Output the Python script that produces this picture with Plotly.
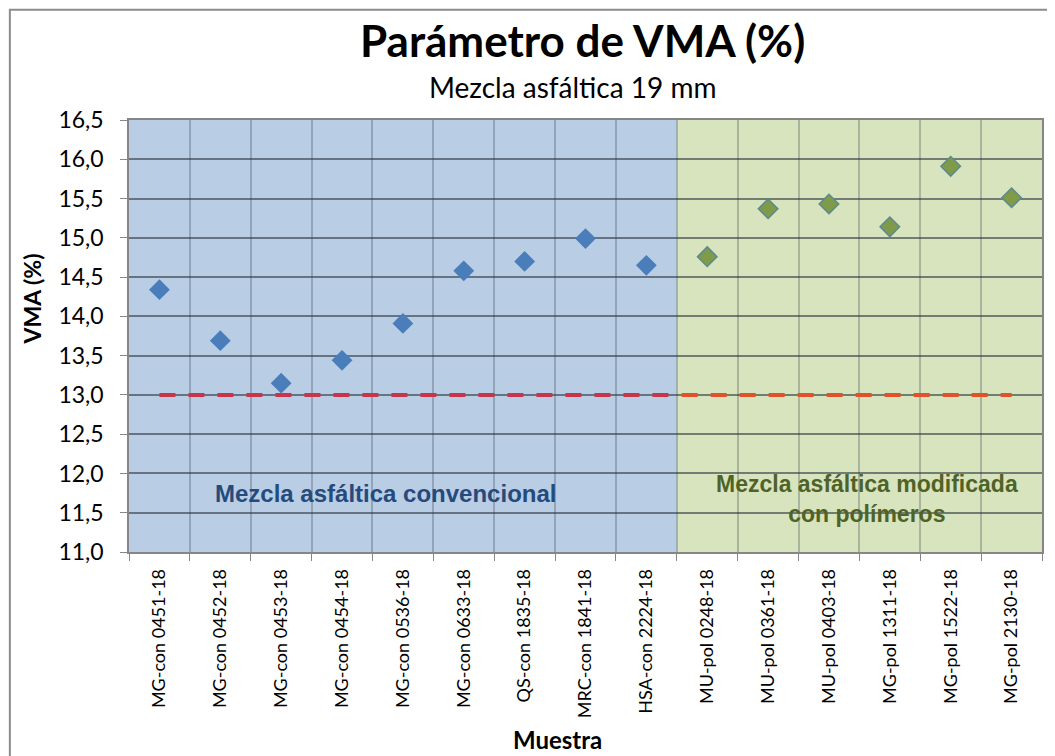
import plotly.graph_objects as go

# ---- data ----
conv_samples = ["MG-con 0451-18", "MG-con 0452-18", "MG-con 0453-18", "MG-con 0454-18",
                "MG-con 0536-18", "MG-con 0633-18", "QS-con 1835-18", "MRC-con 1841-18",
                "HSA-con 2224-18"]
conv_vma = [14.34, 13.69, 13.15, 13.44, 13.91, 14.58, 14.70, 14.99, 14.65]

pol_samples = ["MU-pol 0248-18", "MU-pol 0361-18", "MU-pol 0403-18", "MG-pol 1311-18",
               "MG-pol 1522-18", "MG-pol 2130-18"]
pol_vma = [14.76, 15.37, 15.43, 15.14, 15.91, 15.51]

vma_min = 13.0
y_ticks = [11.0, 11.5, 12.0, 12.5, 13.0, 13.5, 14.0, 14.5, 15.0, 15.5, 16.0, 16.5]

labels = conv_samples + pol_samples
n_conv = len(conv_samples)
n_all = len(labels)
x_conv = list(range(n_conv))
x_pol = list(range(n_conv, n_all))
boundary = n_conv - 0.5

fig = go.Figure()

# minimum VMA lines
fig.add_trace(go.Scatter(x=[0, boundary - 0.1], y=[vma_min, vma_min], mode="lines",
                         line=dict(color="#C8354B", width=4, dash="16px,13px"),
                         showlegend=False, hoverinfo="skip"))
fig.add_trace(go.Scatter(x=[boundary + 0.08, n_all - 1], y=[vma_min, vma_min], mode="lines",
                         line=dict(color="#E2522A", width=4, dash="16px,13px"),
                         showlegend=False, hoverinfo="skip"))

# sample points
fig.add_trace(go.Scatter(x=x_conv, y=conv_vma, mode="markers",
                         marker=dict(symbol="diamond", size=16, color="#4A7EBB",
                                     line=dict(width=0)),
                         showlegend=False))
fig.add_trace(go.Scatter(x=x_pol, y=pol_vma, mode="markers",
                         marker=dict(symbol="diamond", size=15, color="#7F9A48",
                                     line=dict(width=1.5, color="#5B8A92")),
                         showlegend=False))

# background regions
fig.add_shape(type="rect", xref="x", yref="y", x0=-0.5, x1=boundary, y0=y_ticks[0], y1=y_ticks[-1],
              fillcolor="#B9CDE5", line=dict(width=0), layer="below")
fig.add_shape(type="rect", xref="x", yref="y", x0=boundary, x1=n_all - 0.5, y0=y_ticks[0], y1=y_ticks[-1],
              fillcolor="#D7E4BD", line=dict(width=0), layer="below")

# outer chart border
fig.add_shape(type="rect", xref="paper", yref="paper", x0=-0.1305, x1=1.03, y0=-0.5, y1=1.255,
              line=dict(color="#8C8C8C", width=2), fillcolor="rgba(0,0,0,0)", layer="below")

fig.update_layout(
    width=1047, height=748,
    margin=dict(l=121, r=11, t=112, b=204),
    paper_bgcolor="white", plot_bgcolor="white",
    separators=",.",
    font=dict(family="Lato", color="black"),
    xaxis=dict(
        range=[-0.5, n_all - 0.5],
        tickmode="array", tickvals=list(range(n_all)), ticktext=labels,
        tickangle=-90, tickfont=dict(family="Lato", size=18, color="black"),
        ticks="outside", ticklen=7, tickcolor="rgba(0,0,0,0)",
        ticklabelstandoff=1,
        showgrid=False, zeroline=False,
        showline=True, linecolor="#868686", linewidth=1.5, mirror=True,
        minor=dict(tick0=0.5, dtick=1, showgrid=True, gridcolor="rgba(60,70,80,0.3)",
                   gridwidth=1.5, ticks="outside", ticklen=7, tickcolor="#868686"),
    ),
    yaxis=dict(
        range=[y_ticks[0], y_ticks[-1]],
        tickmode="array", tickvals=y_ticks, tickformat=".1f",
        tickfont=dict(family="Lato", size=23, color="black"),
        ticks="outside", ticklen=7, tickcolor="#868686",
        ticklabelstandoff=12,
        showgrid=True, gridcolor="rgba(40,50,60,0.58)", gridwidth=1.5,
        zeroline=False,
        showline=True, linecolor="#868686", linewidth=1.5, mirror=True,
    ),
    annotations=[
        dict(text="<b>Parámetro de VMA (%)</b>", xref="paper", yref="paper", x=0.4962, y=1.185,
             xanchor="center", yanchor="middle", showarrow=False,
             font=dict(family="Lato", size=44, color="black")),
        dict(text="Mezcla asfáltica 19 mm", xref="paper", yref="paper", x=0.4863, y=1.076,
             xanchor="center", yanchor="middle", showarrow=False,
             font=dict(family="Lato", size=28, color="black")),
        dict(text="<b>VMA (%)</b>", xref="paper", yref="paper", x=-0.106, y=0.585,
             xanchor="center", yanchor="middle", textangle=-90, showarrow=False,
             font=dict(family="Lato", size=23, color="black")),
        dict(text="<b>Muestra</b>", xref="paper", yref="paper", x=0.469, y=-0.435,
             xanchor="center", yanchor="middle", showarrow=False,
             font=dict(family="Lato", size=24, color="black")),
        dict(text="<b>Mezcla asfáltica convencional</b>", xref="paper", yref="y", x=0.281, y=11.75,
             xanchor="center", yanchor="middle", showarrow=False,
             font=dict(family="Liberation Sans", size=24, color="#254A7C")),
        dict(text="<b>Mezcla asfáltica modificada<br>con polímeros</b>", xref="paper", yref="y",
             x=0.8087, y=11.675, xanchor="center", yanchor="middle", showarrow=False,
             font=dict(family="Liberation Sans", size=23, color="#4F6228")),
    ],
)

fig.write_html("out.html")
